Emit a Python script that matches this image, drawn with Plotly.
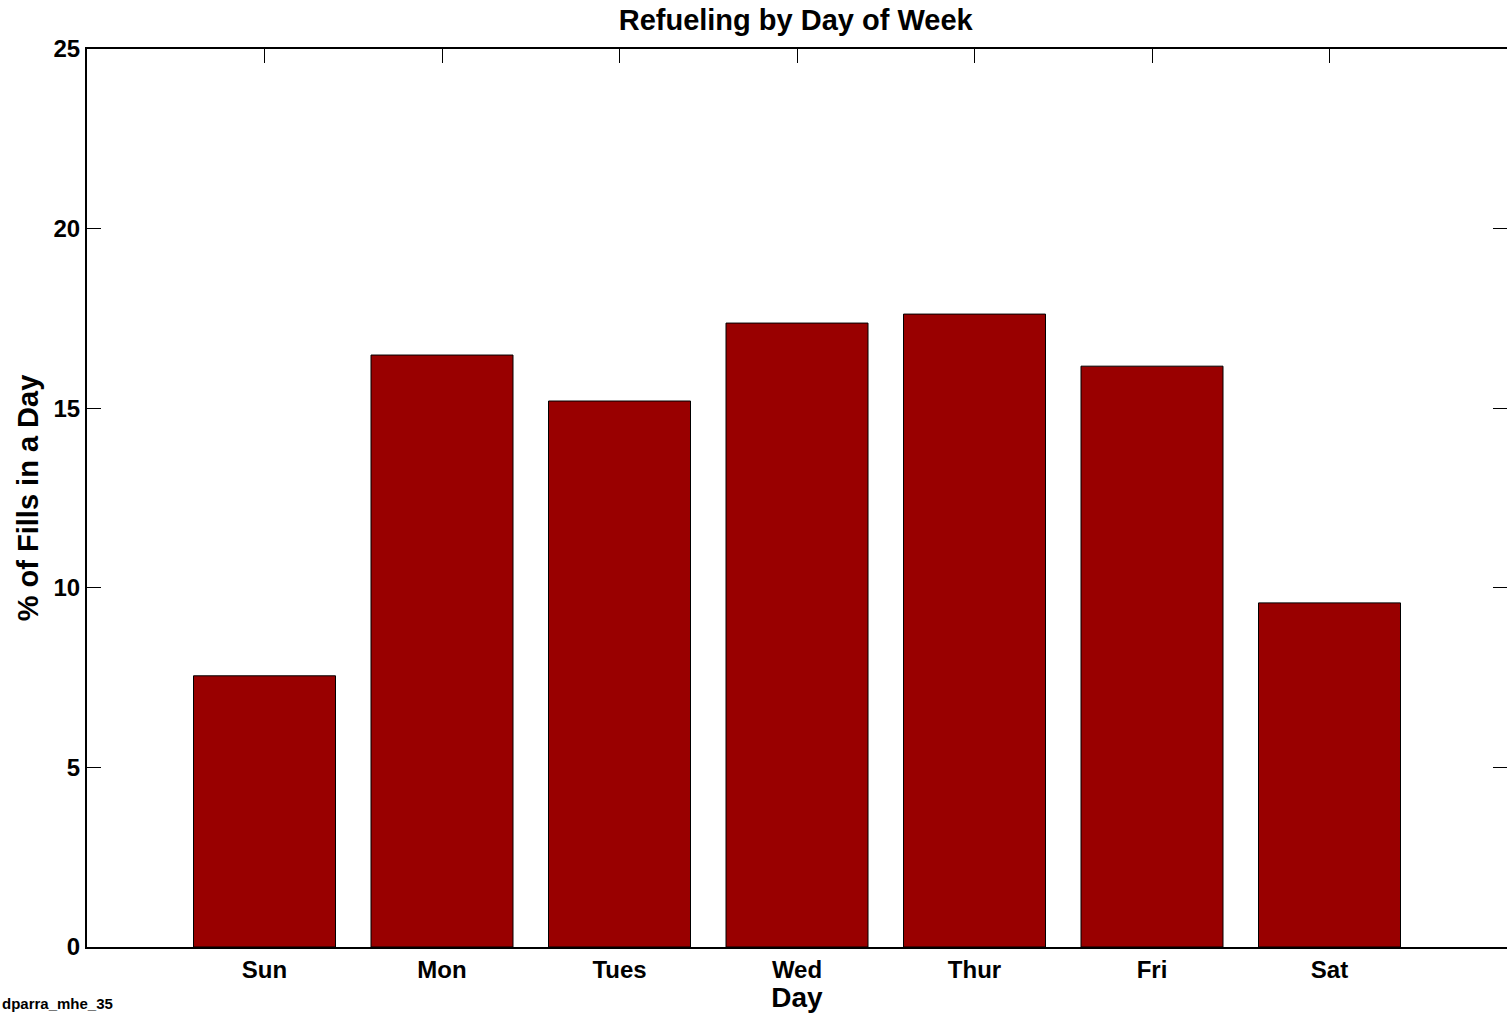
import plotly.graph_objects as go

days = ["Sun", "Mon", "Tues", "Wed", "Thur", "Fri", "Sat"]
pct_fills = [7.55, 16.48, 15.2, 17.37, 17.62, 16.17, 9.58]
y_ticks = [0, 5, 10, 15, 20, 25]

FONT = "Liberation Sans, Arial, sans-serif"

fig = go.Figure()
fig.add_trace(go.Bar(
    x=days, y=pct_fills, width=0.8,
    marker=dict(color="#990000", line=dict(color="black", width=1)),
    showlegend=False,
))
# invisible helper trace for mirrored tick axes
fig.add_trace(go.Scatter(x=days, y=pct_fills, xaxis="x2", yaxis="y2",
                         mode="markers", marker=dict(opacity=0), showlegend=False,
                         hoverinfo="skip"))

fig.update_layout(
    width=1507, height=1013,
    margin=dict(l=87, r=0, t=49, b=66),
    plot_bgcolor="white", paper_bgcolor="white",
    font=dict(family=FONT, color="black"),
    title=dict(text="<b>Refueling by Day of Week</b>", x=0.528, xanchor="center",
               y=0.98, yanchor="middle", font=dict(size=29, family=FONT, color="black")),
    xaxis=dict(
        type="category", categoryorder="array", categoryarray=days,
        range=[-1, 7], showgrid=False, zeroline=False,
        showline=True, linecolor="black", linewidth=2, mirror=True,
        ticks="", tickfont=dict(size=24, family=FONT, color="black"),
        tickvals=days, ticktext=[f"<b>{d}</b>" for d in days],
        title=dict(text="<b>Day</b>", font=dict(size=28, family=FONT, color="black"), standoff=0),
    ),
    xaxis2=dict(
        type="category", categoryorder="array", categoryarray=days,
        overlaying="x", side="top", range=[-1, 7], matches="x",
        showgrid=False, zeroline=False, showline=False,
        ticks="inside", ticklen=14, tickwidth=1, tickcolor="black",
        showticklabels=False,
    ),
    yaxis=dict(
        range=[0, 25], tickvals=y_ticks, ticktext=[f"<b>{v}</b>" for v in y_ticks],
        showgrid=False, zeroline=False,
        showline=True, linecolor="black", linewidth=2,
        ticks="inside", ticklen=14, tickwidth=1, tickcolor="black",
        tickfont=dict(size=24, family=FONT, color="black"),
        title=dict(text="<b>% of Fills in a Day</b>", font=dict(size=29, family=FONT, color="black"), standoff=6),
    ),
    yaxis2=dict(
        range=[0, 25], overlaying="y", side="right", matches="y",
        tickvals=y_ticks, showgrid=False, zeroline=False, showline=False,
        ticks="inside", ticklen=14, tickwidth=1, tickcolor="black",
        showticklabels=False,
    ),
    annotations=[dict(text="<b>dparra_mhe_35</b>", xref="paper", yref="paper",
                      x=-87/1420, y=-56/898, xanchor="left", yanchor="middle",
                      showarrow=False, font=dict(size=15, family=FONT, color="black"))],
)

fig.write_html(
    "out.html",
    config={"displayModeBar": False},
    post_script="document.body.style.margin='0';document.body.style.overflow='hidden';",
)
